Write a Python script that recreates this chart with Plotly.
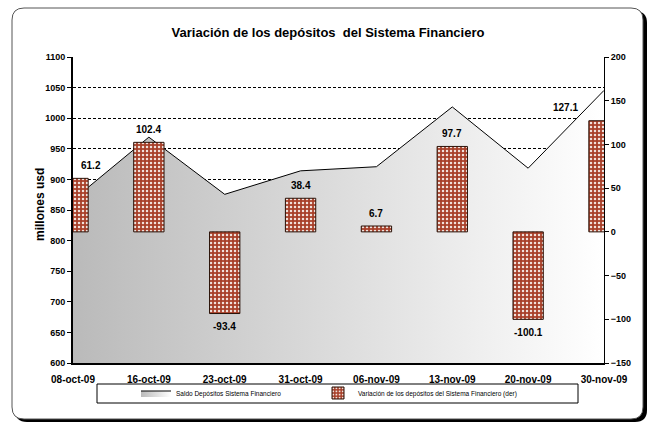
import plotly.graph_objects as go

# ---- data ----
fechas = ["08-oct-09", "16-oct-09", "23-oct-09", "31-oct-09",
          "06-nov-09", "13-nov-09", "20-nov-09", "30-nov-09"]
saldo = [866.6, 969.0, 875.6, 914.0, 920.7, 1018.4, 918.3, 1045.4]
variacion = [61.2, 102.4, -93.4, 38.4, 6.7, 97.7, -100.1, 127.1]
nombre_saldo = "Saldo Depósitos Sistema Financiero"
nombre_var = "Variación de los depósitos del Sistema Financiero (der)"
titulo = "Variación de los depósitos  del Sistema Financiero"

W, H = 653, 427
L, R, T, B = 73, 604, 57, 363   # plot area in px


def px(x):
    return (x - L) / (R - L)


def py(y):
    return (B - y) / (B - T)


FONT = "Liberation Sans, Arial, sans-serif"

fig = go.Figure()

fig.add_trace(go.Scatter(
    x=fechas, y=saldo, name=nombre_saldo, mode="lines",
    line=dict(color="black", width=1),
    fill="tozeroy",
    fillgradient=dict(type="horizontal",
                      colorscale=[[0, "#bababa"], [1, "#ffffff"]]),
    yaxis="y", showlegend=True, legend="legend",
))

fig.add_trace(go.Bar(
    x=fechas, y=variacion, name=nombre_var, yaxis="y2", legend="legend2",
    marker=dict(
        color="#a8402a",
        line=dict(color="#2a1208", width=1),
        pattern=dict(shape=".", fgcolor="#f2e2dc", bgcolor="#a8402a",
                     size=4, solidity=0.3, fillmode="replace"),
    ),
    width=0.4,
))

annotations = []
n = len(fechas)
for i, (f, v) in enumerate(zip(fechas, variacion)):
    xs = 18 if i == 0 else (-39 if i == n - 1 else 0)
    annotations.append(dict(
        x=f, y=v, xref="x", yref="y2", text=f"{v:.1f}", showarrow=False,
        yshift=13 if v >= 0 else -13, xshift=xs,
        font=dict(family=FONT, size=10, color="black", weight="bold"),
    ))

annotations.append(dict(
    x=px(40), y=py(205), xref="paper", yref="paper", text="millones usd",
    textangle=-90, showarrow=False, xanchor="center", yanchor="middle",
    font=dict(family=FONT, size=12, color="black", weight="bold"),
))


# outer rounded frame with shadow
def rrect(x0, y0, x1, y1, r):
    X0, X1 = px(x0), px(x1)
    Y0, Y1 = py(y0), py(y1)
    rx = r / (R - L)
    ry = r / (B - T)
    return (f"M {X0+rx},{Y0} L {X1-rx},{Y0} Q {X1},{Y0} {X1},{Y0-ry} "
            f"L {X1},{Y1+ry} Q {X1},{Y1} {X1-rx},{Y1} "
            f"L {X0+rx},{Y1} Q {X0},{Y1} {X0},{Y1+ry} "
            f"L {X0},{Y0-ry} Q {X0},{Y0} {X0+rx},{Y0} Z")


shapes = [
    dict(type="path", path=rrect(15, 11, 647, 422, 12), xref="paper",
         yref="paper", fillcolor="black", line=dict(width=0), layer="below"),
    dict(type="path", path=rrect(12, 8, 643, 419, 12), xref="paper",
         yref="paper", fillcolor="white", line=dict(color="#555555", width=1),
         layer="below"),
    dict(type="rect", x0=px(97), x1=px(578), y0=py(384), y1=py(403),
         xref="paper", yref="paper", fillcolor="white",
         line=dict(color="black", width=1), layer="below"),
]

leg_common = dict(orientation="h", xanchor="left", yanchor="middle",
                  font=dict(size=6.5, family=FONT),
                  bgcolor="rgba(0,0,0,0)", itemwidth=30)

fig.update_layout(
    width=W, height=H,
    margin=dict(l=L, r=W - R, t=T, b=H - B),
    paper_bgcolor="white", plot_bgcolor="rgba(0,0,0,0)",
    font=dict(family=FONT, color="black"),
    title=dict(text=titulo, x=px(328), xref="paper", xanchor="center",
               y=1 - 32 / H, yref="container", yanchor="middle",
               font=dict(family=FONT, size=13, color="black", weight="bold")),
    xaxis=dict(type="category", range=[0, n - 1], showgrid=False,
               showline=True, linecolor="black", linewidth=2,
               ticks="", tickfont=dict(size=10, weight="bold"),
               ticklabelstandoff=6),
    yaxis=dict(range=[600, 1100], dtick=50, showline=True,
               linecolor="black", linewidth=2, ticks="outside", ticklen=4,
               tickcolor="black", tickfont=dict(size=9, weight="bold"),
               showgrid=True, gridcolor="black", gridwidth=1,
               griddash="3px,2px", zeroline=False),
    yaxis2=dict(range=[-150, 200], dtick=50, overlaying="y", side="right",
                showline=True, linecolor="black", linewidth=1,
                ticks="outside", ticklen=4, tickcolor="black",
                tickfont=dict(size=9, weight="bold"), showgrid=False,
                zeroline=False),
    legend=dict(x=px(136), y=py(393), **leg_common),
    legend2=dict(x=px(318), y=py(393), **leg_common),
    bargap=0.6,
    annotations=annotations,
    shapes=shapes,
)

fig.write_html(
    "out.html",
    config={"displayModeBar": False},
    post_script="document.body.style.margin='0';document.body.style.padding='0';",
)
